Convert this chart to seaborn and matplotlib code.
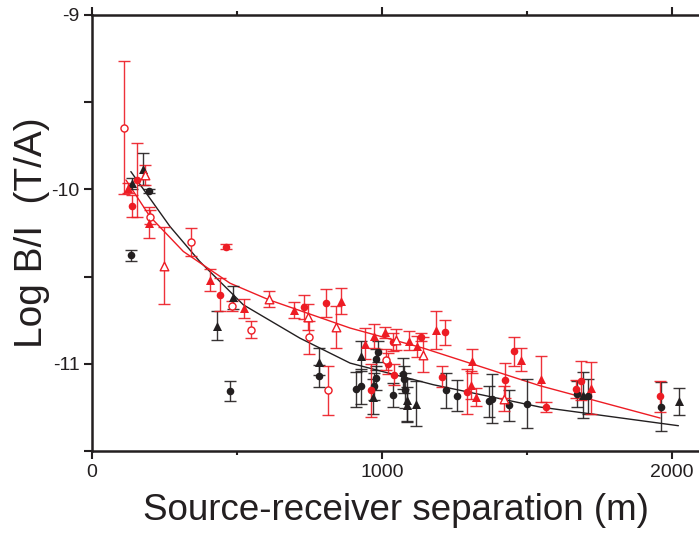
import matplotlib
matplotlib.use("Agg")
import matplotlib.pyplot as plt
import numpy as np
import pandas as pd
import seaborn as sns
from matplotlib.ticker import FixedLocator

RED = "#ed1c24"
BLACK = "#231f20"

# red, filled circles
rfc_x = [137, 154, 441, 461, 732, 806, 961, 1022, 1037, 1041, 1134, 1208, 1218, 1293, 1424, 1456, 1564, 1669, 1685, 1959]
rfc_y = [-10.095, -9.946, -10.605, -10.328, -10.675, -10.652, -11.153, -11.00, -10.876, -11.063, -10.847, -11.073,
         -10.82, -11.159, -11.094, -10.929, -11.248, -11.145, -11.096, -11.187]
rfc_e = [0.064, 0.21, 0.095, 0.015, 0.07, 0.08, 0.15, 0.06, 0.05, 0.06, 0.025, 0.06, 0.07, 0.13, 0.10, 0.085,
         0.03, 0.05, 0.11, 0.09]

# red, open circles
roc_x = [111, 200, 340, 482, 548, 748, 814, 1013]
roc_y = [-9.646, -10.159, -10.30, -10.668, -10.805, -10.847, -11.153, -10.977]
roc_e = [0.38, 0.04, 0.08, 0.03, 0.048, 0.095, 0.14, 0.06]

# red, filled triangles
rft_x = [125, 197, 407, 525, 698, 858, 941, 971, 1010, 1094, 1120, 1186, 1307, 1309, 1324, 1478, 1549, 1721]
rft_y = [-9.993, -10.19, -10.519, -10.681, -10.69, -10.639, -10.885, -10.84, -10.82, -10.868, -10.9, -10.805,
         -11.12, -10.983, -11.19, -10.977, -11.088, -11.139]
rft_e = [0.03, 0.09, 0.065, 0.055, 0.045, 0.075, 0.09, 0.067, 0.03, 0.055, 0.06, 0.11, 0.08, 0.07, 0.05, 0.065,
         0.13, 0.15]

# red, open triangles
rot_x = [183, 249, 610, 746, 841, 1048, 1142, 1422]
rot_y = [-9.92, -10.438, -10.63, -10.732, -10.79, -10.862, -10.948, -11.2]
rot_e = [0.057, 0.22, 0.047, 0.075, 0.12, 0.06, 0.1, 0.07]

# black, filled circles
bfc_x = [134, 196, 476, 783, 910, 928, 973, 979, 979, 985, 1039, 1071, 1076, 1080, 1222, 1258, 1370, 1380, 1439,
         1500, 1671, 1711, 1961]
bfc_y = [-10.379, -10.007, -11.155, -11.07, -11.145, -11.13, -11.13, -11.082, -10.973, -10.93, -11.178, -11.057,
         -11.09, -11.153, -11.153, -11.182, -11.216, -11.2, -11.239, -11.23, -11.172, -11.187, -11.245]
bfc_e = [0.03, 0.012, 0.057, 0.063, 0.1, 0.1, 0.08, 0.07, 0.06, 0.06, 0.07, 0.09, 0.08, 0.1, 0.1, 0.09, 0.09,
         0.14, 0.09, 0.14, 0.075, 0.1, 0.14]

# black, filled triangles
bft_x = [139, 177, 430, 487, 783, 926, 970, 1085, 1085, 1117, 1694, 2025]
bft_y = [-9.965, -9.884, -10.782, -10.618, -10.987, -10.958, -11.19, -11.206, -11.235, -11.229, -11.178, -11.216]
bft_e = [0.03, 0.09, 0.083, 0.065, 0.075, 0.086, 0.1, 0.12, 0.1, 0.13, 0.13, 0.08]

# fitted curves
fit_black_x = [134, 269, 372, 522, 717, 890, 1177, 1545, 2022]
fit_black_y = [-9.898, -10.213, -10.414, -10.662, -10.853, -10.996, -11.12, -11.248, -11.355]
fit_red_x = [117, 200, 315, 476, 610, 890, 1142, 1545, 1959]
fit_red_y = [-9.946, -10.156, -10.356, -10.538, -10.633, -10.795, -10.91, -11.126, -11.311]

sns.set_theme(style="ticks")
plt.rcParams["font.family"] = ["Liberation Sans", "DejaVu Sans"]

fig = plt.figure(figsize=(6.99, 5.35), dpi=100)
ax = fig.add_axes([0.1316, 0.157, 0.8684, 0.815])

series = [
    (bfc_x, bfc_y, bfc_e, BLACK, "o", True, 30),
    (bft_x, bft_y, bft_e, BLACK, "^", True, 42),
    (rfc_x, rfc_y, rfc_e, RED, "o", True, 30),
    (roc_x, roc_y, roc_e, RED, "o", False, 26),
    (rft_x, rft_y, rft_e, RED, "^", True, 42),
    (rot_x, rot_y, rot_e, RED, "^", False, 38),
]

sns.lineplot(x=fit_black_x, y=fit_black_y, color=BLACK, lw=1.0, ax=ax, zorder=2)
sns.lineplot(x=fit_red_x, y=fit_red_y, color=RED, lw=1.0, ax=ax, zorder=2)

for xs, ys, es, col, mk, filled, size in series:
    df = pd.DataFrame({"x": xs, "y": ys, "e": es})
    ax.errorbar(df["x"], df["y"], yerr=df["e"], fmt="none", ecolor=col, elinewidth=1.0,
                capsize=4, capthick=1.0, alpha=0.9, zorder=3)
    sns.scatterplot(data=df, x="x", y="y", marker=mk, s=size, ax=ax, zorder=4,
                    color=col if filled else "white", edgecolor=col,
                    linewidth=0 if filled else 1.0)

ax.set_xlim(0, 2093)
ax.set_ylim(-11.5, -9)
ax.xaxis.set_major_locator(FixedLocator([0, 1000, 2000]))
ax.xaxis.set_minor_locator(FixedLocator([500, 1500]))
ax.yaxis.set_major_locator(FixedLocator([-9, -10, -11]))
ax.yaxis.set_minor_locator(FixedLocator([-9.5, -10.5, -11.5]))
ax.set_yticklabels(["-9", "-10", "-11"])

ax.tick_params(axis="both", which="both", direction="out", width=1.5, colors=BLACK, labelsize=14)
ax.tick_params(axis="x", which="both", top=True, labeltop=False)
ax.tick_params(axis="x", which="major", length=6)
ax.tick_params(axis="x", which="minor", length=3)
ax.tick_params(axis="y", which="both", length=6)
ax.tick_params(axis="both", which="major", pad=3)

for side in ["left", "bottom", "top"]:
    ax.spines[side].set_linewidth(1.8)
    ax.spines[side].set_color(BLACK)
ax.spines["right"].set_visible(False)

ax.set_xlabel("Source-receiver separation (m)", fontsize=26.5, labelpad=9, color=BLACK)
ax.set_ylabel("Log B/I  (T/A)", fontsize=28, labelpad=1, color=BLACK)
ax.grid(False)

fig.savefig("out.png", dpi=100)
